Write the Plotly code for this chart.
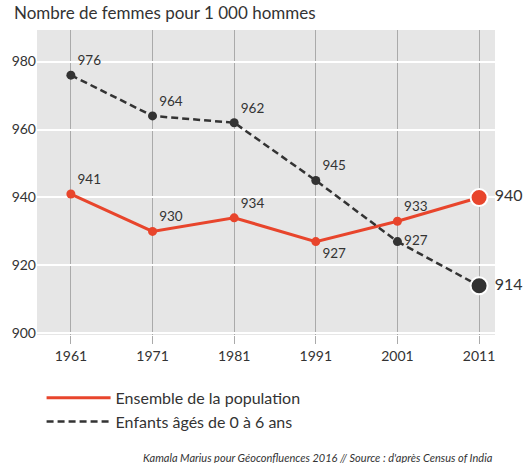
import plotly.graph_objects as go

years = [1961, 1971, 1981, 1991, 2001, 2011]
population = [941, 930, 934, 927, 933, 940]
enfants = [976, 964, 962, 945, 927, 914]
pop_pos = ["top right", "top right", "top right", "bottom right", "top right"]
enf_pos = ["top right", "top right", "top right", "top right", "middle right"]
y_ticks = [900, 920, 940, 960, 980]

RED = "#e8452c"
DARK = "#333333"
FONT = "Lato, Noto Sans, sans-serif"

fig = go.Figure()

fig.add_trace(go.Scatter(
    x=years[:-1], y=population[:-1], mode="lines+markers+text",
    line=dict(color=RED, width=3), marker=dict(color=RED, size=9),
    text=[str(v) for v in population[:-1]], textposition=pop_pos,
    textfont=dict(size=13.5, color=DARK, family=FONT),
    name="Ensemble de la population", showlegend=False, cliponaxis=False))
fig.add_trace(go.Scatter(
    x=years[-2:], y=population[-2:], mode="lines",
    line=dict(color=RED, width=3), showlegend=False, hoverinfo="skip"))

fig.add_trace(go.Scatter(
    x=years[:-1], y=enfants[:-1], mode="lines+markers+text",
    line=dict(color=DARK, width=2.5, dash="7px,4px"), marker=dict(color=DARK, size=9),
    text=[str(v) for v in enfants[:-1]], textposition=enf_pos,
    textfont=dict(size=13.5, color=DARK, family=FONT),
    name="Enfants âgés de 0 à 6 ans", showlegend=False, cliponaxis=False))
fig.add_trace(go.Scatter(
    x=years[-2:], y=enfants[-2:], mode="lines",
    line=dict(color=DARK, width=2.5, dash="7px,4px"), showlegend=False, hoverinfo="skip"))

# final emphasised points
fig.add_trace(go.Scatter(
    x=[years[-1]], y=[population[-1]], mode="markers+text",
    marker=dict(color=RED, size=17, line=dict(color="white", width=2)),
    text=[" " + str(population[-1])], textposition="middle right",
    textfont=dict(size=16, color=DARK, family=FONT), showlegend=False, cliponaxis=False))
fig.add_trace(go.Scatter(
    x=[years[-1]], y=[enfants[-1]], mode="markers+text",
    marker=dict(color=DARK, size=17, line=dict(color="white", width=2)),
    text=[" " + str(enfants[-1])], textposition="middle right",
    textfont=dict(size=16, color=DARK, family=FONT), showlegend=False, cliponaxis=False))

# legend entries
fig.add_trace(go.Scatter(x=[None], y=[None], mode="lines",
                         line=dict(color=RED, width=3), name="Ensemble de la population"))
fig.add_trace(go.Scatter(x=[None], y=[None], mode="lines",
                         line=dict(color=DARK, width=2.5, dash="7px,4px"), name="Enfants âgés de 0 à 6 ans"))

fig.update_layout(
    width=529, height=463,
    margin=dict(l=35, r=34, t=30, b=128),
    plot_bgcolor="#e6e6e6", paper_bgcolor="white",
    font=dict(family=FONT, color=DARK, size=14),
    title=dict(text="Nombre de femmes pour 1 000 hommes", x=0, xref="paper",
               xanchor="left", y=0.985, yanchor="top",
               font=dict(size=17, color=DARK, family=FONT), pad=dict(l=-23)),
    xaxis=dict(range=[1956.85, 2012.95], tickvals=years, ticktext=[str(y) for y in years],
               showgrid=True, gridcolor="#aaaaaa", gridwidth=1,
               ticks="outside", ticklen=8, tickcolor="#aaaaaa", zeroline=False,
               showline=False, tickfont=dict(size=14, color=DARK)),
    yaxis=dict(range=[899.5, 989.3], tickvals=y_ticks, showgrid=True, gridcolor="white",
               gridwidth=1.5, zeroline=False, ticks="", showline=False,
               tickfont=dict(size=14, color=DARK)),
    legend=dict(x=0.01, y=-0.15, xanchor="left", yanchor="top",
                font=dict(size=16, color=DARK, family=FONT),
                bgcolor="rgba(0,0,0,0)", itemwidth=64, tracegroupgap=0),
    annotations=[dict(text="<i>Kamala Marius pour Géoconfluences 2016 // Source : d'après Census of India</i>",
                      x=1, xref="paper", xanchor="right", y=-0.4, yref="paper", yanchor="middle",
                      showarrow=False, font=dict(size=11, color=DARK, family=FONT))],
)

fig.write_html("out.html", config={"displayModeBar": False},
               post_script="document.body.style.margin='0';")
